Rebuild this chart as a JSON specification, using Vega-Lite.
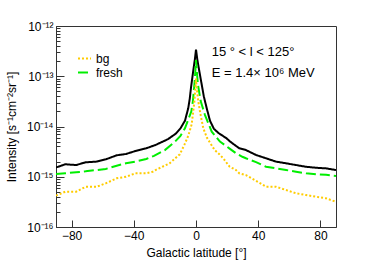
{
  "$schema": "https://vega.github.io/schema/vega-lite/v6.json",
  "width": 280,
  "height": 201,
  "autosize": {"type": "none"},
  "padding": {"left": 56, "top": 26, "right": 38, "bottom": 41},
  "background": "white",
  "config": {
    "font": "Liberation Sans",
    "view": {"stroke": "#333", "strokeWidth": 1},
    "axis": {
      "grid": false,
      "domainColor": "#333",
      "tickColor": "#333",
      "labelColor": "#000",
      "titleColor": "#000",
      "labelFontSize": 12,
      "titleFontSize": 12,
      "titleFontWeight": "normal"
    }
  },
  "datasets": {
    "curves": [
      {"series": "total", "b": -90, "v": 1.53e-15},
      {"series": "total", "b": -84, "v": 1.77e-15},
      {"series": "total", "b": -77, "v": 1.71e-15},
      {"series": "total", "b": -71, "v": 1.94e-15},
      {"series": "total", "b": -64, "v": 2.0e-15},
      {"series": "total", "b": -58, "v": 2.22e-15},
      {"series": "total", "b": -51, "v": 2.67e-15},
      {"series": "total", "b": -45, "v": 2.84e-15},
      {"series": "total", "b": -39, "v": 3.25e-15},
      {"series": "total", "b": -32, "v": 3.68e-15},
      {"series": "total", "b": -26, "v": 4.29e-15},
      {"series": "total", "b": -18, "v": 5.6e-15},
      {"series": "total", "b": -13, "v": 7.2e-15},
      {"series": "total", "b": -10, "v": 9.2e-15},
      {"series": "total", "b": -7.1, "v": 1.3e-14},
      {"series": "total", "b": -5, "v": 2.3e-14},
      {"series": "total", "b": -4, "v": 3.6e-14},
      {"series": "total", "b": -3.2, "v": 6.0e-14},
      {"series": "total", "b": -1.7, "v": 1.33e-13},
      {"series": "total", "b": -0.7, "v": 2.2e-13},
      {"series": "total", "b": 0, "v": 3.4e-13},
      {"series": "total", "b": 0.8, "v": 2.2e-13},
      {"series": "total", "b": 2.0, "v": 1.33e-13},
      {"series": "total", "b": 4.0, "v": 6.0e-14},
      {"series": "total", "b": 5, "v": 4.0e-14},
      {"series": "total", "b": 6.9, "v": 2.3e-14},
      {"series": "total", "b": 9.0, "v": 1.3e-14},
      {"series": "total", "b": 11.5, "v": 9.0e-15},
      {"series": "total", "b": 14.5, "v": 7.4e-15},
      {"series": "total", "b": 19.7, "v": 5.8e-15},
      {"series": "total", "b": 22, "v": 5.0e-15},
      {"series": "total", "b": 27.8, "v": 3.68e-15},
      {"series": "total", "b": 32.1, "v": 3.4e-15},
      {"series": "total", "b": 38.6, "v": 2.71e-15},
      {"series": "total", "b": 45, "v": 2.33e-15},
      {"series": "total", "b": 51.4, "v": 2.0e-15},
      {"series": "total", "b": 57.9, "v": 1.85e-15},
      {"series": "total", "b": 64.3, "v": 1.71e-15},
      {"series": "total", "b": 70.7, "v": 1.58e-15},
      {"series": "total", "b": 77.1, "v": 1.51e-15},
      {"series": "total", "b": 83.6, "v": 1.47e-15},
      {"series": "total", "b": 90, "v": 1.36e-15},

      {"series": "fresh", "b": -90, "v": 1.13e-15},
      {"series": "fresh", "b": -84, "v": 1.17e-15},
      {"series": "fresh", "b": -77, "v": 1.23e-15},
      {"series": "fresh", "b": -71, "v": 1.28e-15},
      {"series": "fresh", "b": -64, "v": 1.36e-15},
      {"series": "fresh", "b": -58, "v": 1.43e-15},
      {"series": "fresh", "b": -51, "v": 1.66e-15},
      {"series": "fresh", "b": -45, "v": 1.85e-15},
      {"series": "fresh", "b": -39, "v": 2.0e-15},
      {"series": "fresh", "b": -32, "v": 2.26e-15},
      {"series": "fresh", "b": -27, "v": 2.6e-15},
      {"series": "fresh", "b": -20, "v": 3.4e-15},
      {"series": "fresh", "b": -13.5, "v": 5.0e-15},
      {"series": "fresh", "b": -10, "v": 6.5e-15},
      {"series": "fresh", "b": -7.1, "v": 9.2e-15},
      {"series": "fresh", "b": -4.5, "v": 1.5e-14},
      {"series": "fresh", "b": -3.0, "v": 2.0e-14},
      {"series": "fresh", "b": -2.0, "v": 3.2e-14},
      {"series": "fresh", "b": -1.0, "v": 7.0e-14},
      {"series": "fresh", "b": -0.4, "v": 1.3e-13},
      {"series": "fresh", "b": 0, "v": 2.1e-13},
      {"series": "fresh", "b": 0.5, "v": 1.3e-13},
      {"series": "fresh", "b": 1.2, "v": 7.0e-14},
      {"series": "fresh", "b": 3.0, "v": 3.2e-14},
      {"series": "fresh", "b": 5.8, "v": 1.69e-14},
      {"series": "fresh", "b": 10.1, "v": 7.9e-15},
      {"series": "fresh", "b": 15.4, "v": 5.0e-15},
      {"series": "fresh", "b": 21.4, "v": 3.68e-15},
      {"series": "fresh", "b": 25.7, "v": 2.93e-15},
      {"series": "fresh", "b": 29.8, "v": 2.5e-15},
      {"series": "fresh", "b": 32.1, "v": 2.33e-15},
      {"series": "fresh", "b": 38.6, "v": 1.95e-15},
      {"series": "fresh", "b": 45, "v": 1.58e-15},
      {"series": "fresh", "b": 51.4, "v": 1.47e-15},
      {"series": "fresh", "b": 57.9, "v": 1.36e-15},
      {"series": "fresh", "b": 64.3, "v": 1.26e-15},
      {"series": "fresh", "b": 70.7, "v": 1.17e-15},
      {"series": "fresh", "b": 77.1, "v": 1.12e-15},
      {"series": "fresh", "b": 83.6, "v": 1.09e-15},
      {"series": "fresh", "b": 90, "v": 1.035e-15},

      {"series": "bg", "b": -90, "v": 4.2e-16},
      {"series": "bg", "b": -84, "v": 5.05e-16},
      {"series": "bg", "b": -77, "v": 5.05e-16},
      {"series": "bg", "b": -71, "v": 6.3e-16},
      {"series": "bg", "b": -64, "v": 6.3e-16},
      {"series": "bg", "b": -58, "v": 7.4e-16},
      {"series": "bg", "b": -51, "v": 9.3e-16},
      {"series": "bg", "b": -45, "v": 1.0e-15},
      {"series": "bg", "b": -39, "v": 1.17e-15},
      {"series": "bg", "b": -32, "v": 1.17e-15},
      {"series": "bg", "b": -27.8, "v": 1.26e-15},
      {"series": "bg", "b": -26, "v": 1.36e-15},
      {"series": "bg", "b": -17, "v": 1.85e-15},
      {"series": "bg", "b": -10.4, "v": 2.8e-15},
      {"series": "bg", "b": -7.5, "v": 4.3e-15},
      {"series": "bg", "b": -5, "v": 6.5e-15},
      {"series": "bg", "b": -2.8, "v": 1.1e-14},
      {"series": "bg", "b": -1.1, "v": 3.0e-14},
      {"series": "bg", "b": -0.4, "v": 6.0e-14},
      {"series": "bg", "b": 0, "v": 9.0e-14},
      {"series": "bg", "b": 0.4, "v": 6.0e-14},
      {"series": "bg", "b": 1.6, "v": 3.0e-14},
      {"series": "bg", "b": 2.8, "v": 1.8e-14},
      {"series": "bg", "b": 4.7, "v": 9.2e-15},
      {"series": "bg", "b": 7, "v": 6.0e-15},
      {"series": "bg", "b": 9.5, "v": 4.5e-15},
      {"series": "bg", "b": 12, "v": 3.4e-15},
      {"series": "bg", "b": 15, "v": 2.8e-15},
      {"series": "bg", "b": 17.5, "v": 2.33e-15},
      {"series": "bg", "b": 21.5, "v": 1.6e-15},
      {"series": "bg", "b": 25.7, "v": 1.36e-15},
      {"series": "bg", "b": 27.8, "v": 1.17e-15},
      {"series": "bg", "b": 32.1, "v": 1.08e-15},
      {"series": "bg", "b": 38.6, "v": 8.3e-16},
      {"series": "bg", "b": 45, "v": 6.34e-16},
      {"series": "bg", "b": 51.4, "v": 6.34e-16},
      {"series": "bg", "b": 57.9, "v": 5.45e-16},
      {"series": "bg", "b": 64.3, "v": 4.69e-16},
      {"series": "bg", "b": 70.7, "v": 4.33e-16},
      {"series": "bg", "b": 77.1, "v": 4.01e-16},
      {"series": "bg", "b": 83.6, "v": 3.72e-16},
      {"series": "bg", "b": 90, "v": 3.18e-16}
    ],
    "notes": [
      {"b": 10.1, "v": 3.08e-13, "t": "15 ° < l < 125°"},
      {"b": 10.1, "v": 1.18e-13, "t": "E = 1.4× 10⁶ MeV"}
    ]
  },
  "layer": [
    {
      "data": {"name": "curves"},
      "mark": {"type": "line", "strokeWidth": 2, "clip": true},
      "encoding": {
        "x": {
          "field": "b",
          "type": "quantitative",
          "scale": {"domain": [-90, 90], "nice": false, "zero": false},
          "axis": {
            "title": "Galactic latitude [°]",
            "values": [-80, -60, -40, -20, 0, 20, 40, 60, 80],
            "tickSize": -7,
            "labelOverlap": false,
            "labelPadding": 10,
            "titlePadding": 6
          }
        },
        "y": {
          "field": "v",
          "type": "quantitative",
          "scale": {"type": "log", "domain": [1e-16, 1e-12], "nice": false},
          "axis": {
            "title": "Intensity [s⁻¹cm⁻²sr⁻¹]",
            "values": [1e-16, 2e-16, 3e-16, 4e-16, 5e-16, 6e-16, 7e-16, 8e-16, 9e-16, 1e-15, 2e-15, 3e-15, 4e-15, 5e-15, 6e-15, 7e-15, 8e-15, 9e-15, 1e-14, 2e-14, 3e-14, 4e-14, 5e-14, 6e-14, 7e-14, 8e-14, 9e-14, 1e-13, 2e-13, 3e-13, 4e-13, 5e-13, 6e-13, 7e-13, 8e-13, 9e-13, 1e-12],
            "labelExpr": "abs(log(datum.value)/LN10 - round(log(datum.value)/LN10)) > 0.01 ? '' : (round(log(datum.value)/LN10) == -12 ? '10⁻¹²' : round(log(datum.value)/LN10) == -13 ? '10⁻¹³' : round(log(datum.value)/LN10) == -14 ? '10⁻¹⁴' : round(log(datum.value)/LN10) == -15 ? '10⁻¹⁵' : '10⁻¹⁶')",
            "tickSize": {"condition": {"test": "abs(log(datum.value)/LN10 - round(log(datum.value)/LN10)) < 0.01", "value": -8}, "value": -4},
            "labelOverlap": false,
            "labelFlush": false,
            "labelPadding": 11,
            "titlePadding": 8
          }
        },
        "color": {
          "field": "series",
          "type": "nominal",
          "scale": {"domain": ["bg", "fresh", "total"], "range": ["#ffcc00", "#00ee00", "#000000"]},
          "legend": {"values": ["bg", "fresh"], "orient": "none", "legendX": 21, "legendY": 25, "title": null, "symbolType": "stroke", "symbolSize": 169, "symbolStrokeWidth": 2, "labelFontSize": 12, "labelOffset": 4, "rowPadding": 0, "padding": 0, "labelColor": "#000"}
        },
        "strokeDash": {
          "field": "series",
          "type": "nominal",
          "scale": {"domain": ["bg", "fresh", "total"], "range": [[2, 2], [10, 4], [1, 0]]},
          "legend": {"values": ["bg", "fresh"], "orient": "none", "legendX": 21, "legendY": 25, "title": null, "symbolType": "stroke", "symbolSize": 169, "symbolStrokeWidth": 2, "labelFontSize": 12, "labelOffset": 4, "rowPadding": 0, "padding": 0, "labelColor": "#000"}
        }
      }
    },
    {
      "data": {"name": "notes"},
      "mark": {"type": "text", "align": "left", "baseline": "middle", "fontSize": 13, "color": "#000"},
      "encoding": {
        "x": {"field": "b", "type": "quantitative"},
        "y": {"field": "v", "type": "quantitative"},
        "text": {"field": "t"}
      }
    }
  ]
}
